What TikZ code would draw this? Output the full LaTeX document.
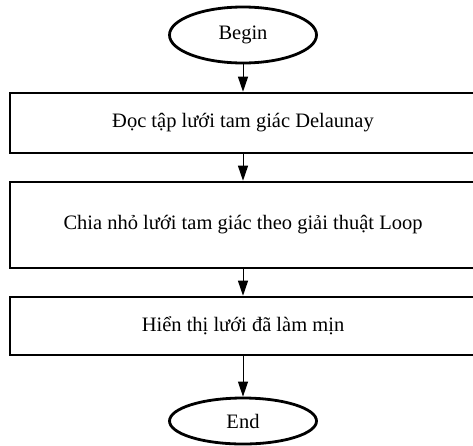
\documentclass[tikz,border=0pt]{standalone}
\usepackage{fontspec}
\setmainfont{Liberation Serif}
\usetikzlibrary{shapes,arrows.meta,positioning}

\begin{document}
\begin{tikzpicture}[x=1pt,y=-1pt,font=\fontsize{20.5}{24}\selectfont,
	term/.style={ellipse,draw,line width=2.8pt,minimum width=147pt,inner sep=0pt},
	stepbox/.style={rectangle,draw,line width=2.6pt,minimum width=466pt,inner sep=0pt},
	flow/.style={-{Triangle[width=10pt,length=15pt]},line width=1pt}]
	\clip (0,0) rectangle (473,445);
	\fill[white] (0,0) rectangle (473,445);
	% start and end
	\node[term,minimum height=56pt] (begin) at (243,35) {Begin};
	\node[term,minimum height=46pt] (end) at (243,421) {End};
	% steps
	\node[stepbox,minimum height=60pt] (read) at (243,123) {Đọc tập lưới tam giác Delaunay};
	\node[stepbox,minimum height=86pt] (subdiv) at (243,225) {Chia nhỏ lưới tam giác theo giải thuật Loop};
	\node[stepbox,minimum height=58pt] (show) at (243,326) {Hiển thị lưới đã làm mịn};
	\draw[flow] (begin) -- (read);
	\draw[flow] (read) -- (subdiv);
	\draw[flow] (subdiv) -- (show);
	\draw[flow] (show) -- (end);
\end{tikzpicture}
\end{document}
